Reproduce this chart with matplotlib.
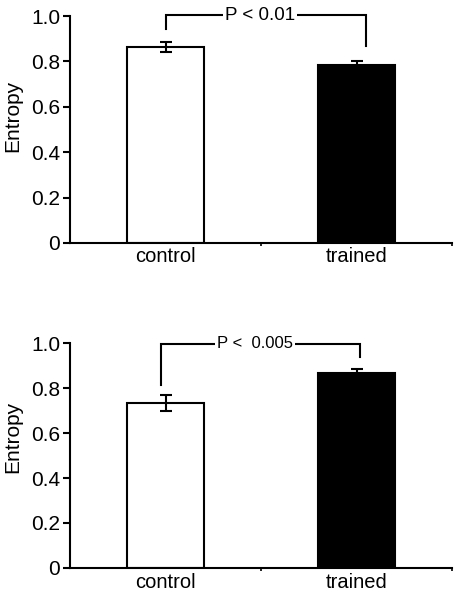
import matplotlib
matplotlib.use("Agg")
import matplotlib.pyplot as plt

categories = ["control", "trained"]
top_means = [0.863, 0.783]
top_errs = [0.021, 0.018]
bottom_means = [0.736, 0.867]
bottom_errs = [0.036, 0.018]
top_p_text = "P < 0.01"
bottom_p_text = "P <  0.005"
# bracket: (horizontal level, left drop end, right drop end, left x, right x)
top_bracket = (1.004, 0.943, 0.87, 0.0, 1.05)
bottom_bracket = (0.998, 0.815, 0.94, -0.024, 1.02)
yticks = [0, 0.2, 0.4, 0.6, 0.8, 1.0]
ytick_labels = ["0", "0.2", "0.4", "0.6", "0.8", "1.0"]

plt.rcParams["font.family"] = ["Liberation Sans", "DejaVu Sans"]

fig = plt.figure(figsize=(4.58, 5.94), dpi=100)
ax1 = fig.add_axes([0.153, 0.591, 0.834, 0.382])
ax2 = fig.add_axes([0.153, 0.044, 0.834, 0.378])

def draw(ax, means, errs, bracket, ptxt, pfs, xpad, label_y):
    x = list(range(len(categories)))
    ax.bar(x, means, width=0.4, color=["white", "black"], edgecolor="black",
           linewidth=1.5, zorder=2)
    ax.errorbar(x, means, yerr=errs, fmt="none", ecolor="black", elinewidth=1.5,
                capsize=4, capthick=1.5, zorder=3)
    ax.set_xlim(-0.5, 1.5)
    ax.set_ylim(0, 1.0)
    ax.set_yticks(yticks)
    ax.set_yticklabels(ytick_labels, fontsize=15)
    ax.set_xticks(x)
    ax.set_xticklabels(categories, fontsize=14.5)
    ax.tick_params(axis="x", length=0, pad=xpad)
    ax.tick_params(axis="y", length=5, width=1.5, pad=2)
    ax.set_xticks([0.5, 1.5], minor=True)
    ax.tick_params(axis="x", which="minor", length=2, width=1.2)
    for s in ["top", "right"]:
        ax.spines[s].set_visible(False)
    for s in ["left", "bottom"]:
        ax.spines[s].set_linewidth(1.5)
    ax.set_ylabel("Entropy", fontsize=15)
    ax.yaxis.set_label_coords(-0.125, label_y)
    h, l, r, xl, xr = bracket
    ax.plot([xl, xl, xr, xr], [l, h, h, r], color="black", lw=1.5,
            clip_on=False, zorder=4, solid_joinstyle="miter")
    ax.text((xl + xr) / 2 - 0.03, h, ptxt, ha="center", va="center", fontsize=pfs,
            bbox=dict(facecolor="white", edgecolor="none", pad=1.5), zorder=5,
            clip_on=False)

draw(ax1, top_means, top_errs, top_bracket, top_p_text, 13.5, 3, 0.56)
draw(ax2, bottom_means, bottom_errs, bottom_bracket, bottom_p_text, 12, 4, 0.585)

fig.savefig("out.png", dpi=100)
